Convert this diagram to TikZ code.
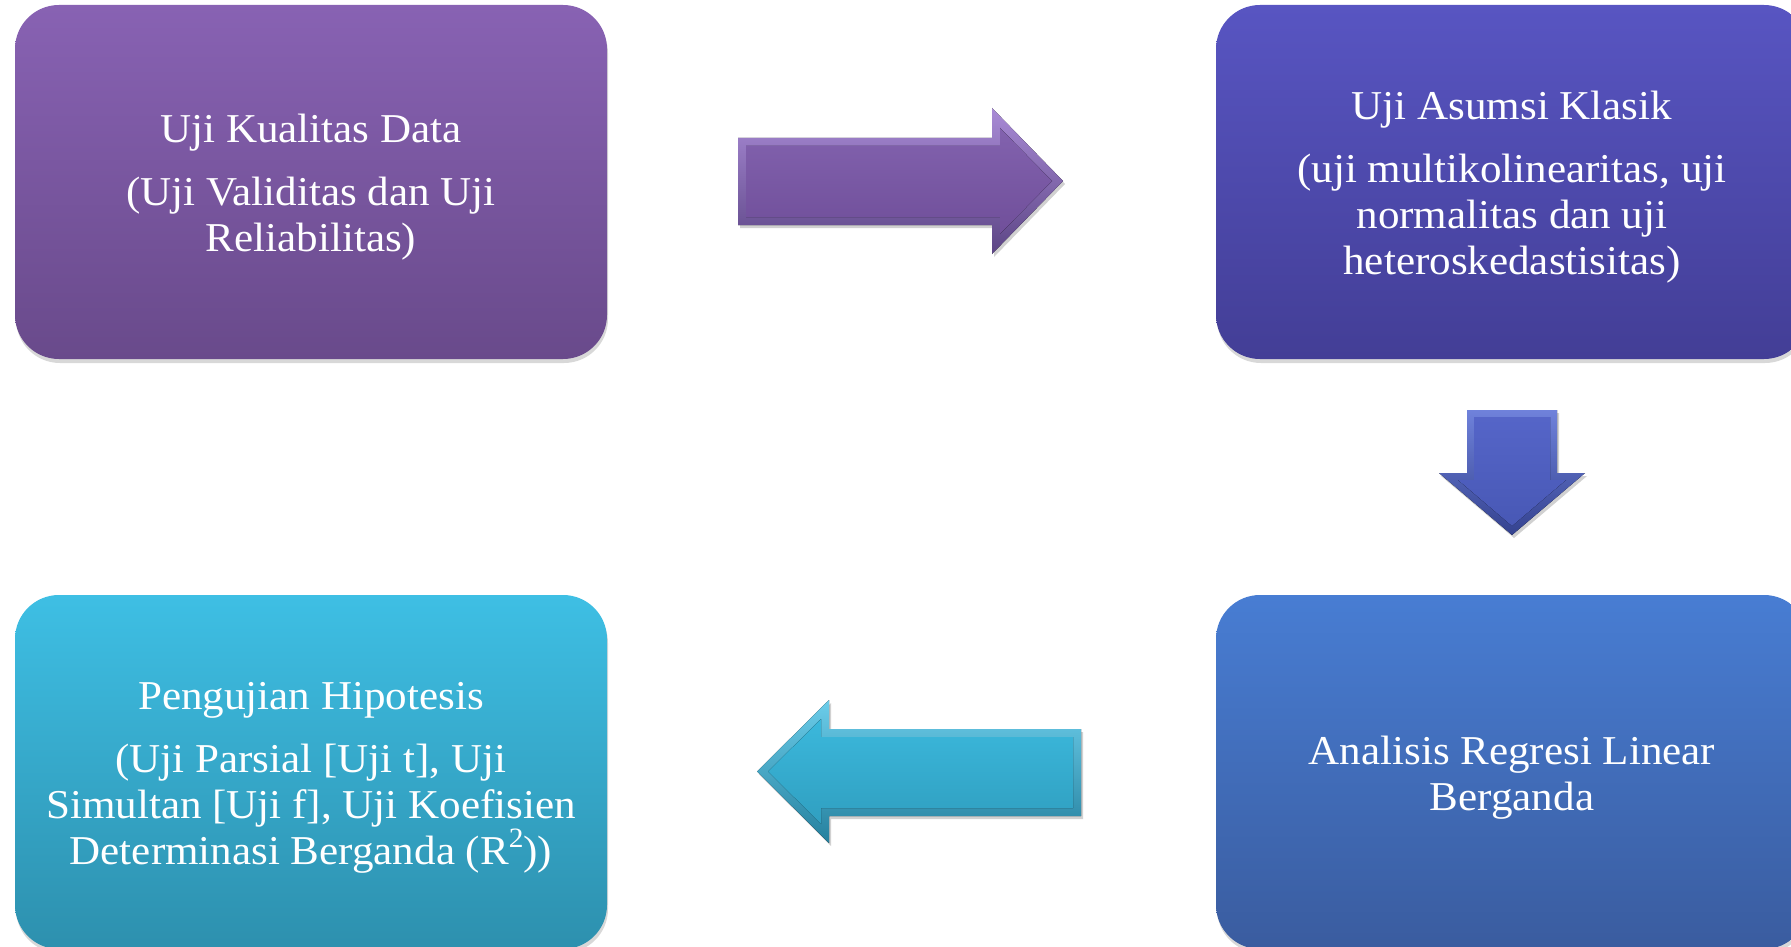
\documentclass[tikz,border=0pt]{standalone}
\usepackage{fontspec}
\setmainfont{Liberation Serif}[FakeStretch=1.05]
\usetikzlibrary{shadows}
\definecolor{bAt}{HTML}{8862B3}
\definecolor{bAb}{HTML}{694A8B}
\definecolor{bBt}{HTML}{5855C2}
\definecolor{bBb}{HTML}{433E96}
\definecolor{bCt}{HTML}{3EBFE4}
\definecolor{bCb}{HTML}{2D90AE}
\definecolor{bDt}{HTML}{487DD3}
\definecolor{bDb}{HTML}{3A5C9F}
\definecolor{rOt}{HTML}{A98BD6}
\definecolor{rOb}{HTML}{5C4585}
\definecolor{rIt}{HTML}{8262AE}
\definecolor{rIb}{HTML}{704F9A}
\definecolor{dOt}{HTML}{6F82DB}
\definecolor{dOb}{HTML}{34428F}
\definecolor{dIt}{HTML}{5565C8}
\definecolor{dIb}{HTML}{4858B5}
\definecolor{lOt}{HTML}{6CCDEA}
\definecolor{lOb}{HTML}{24809E}
\definecolor{lIt}{HTML}{3BB8DC}
\definecolor{lIb}{HTML}{309FC0}
\newcommand{\firstline}{\rule{0pt}{39pt}}
\newcommand{\suptwo}{\raisebox{.42em}{\fontsize{28}{28}\selectfont 2}}
\tikzset{
  card/.style={rounded corners=44pt, minimum width=592pt, minimum height=354pt,
    inner sep=0pt, text=white, align=center,
    font=\fontsize{41}{46}\selectfont,
    drop shadow={shadow xshift=1pt, shadow yshift=-4pt, opacity=.3}},
  ashadow/.style={fill=black, opacity=.18, xshift=2pt, yshift=-3pt}
}
\begin{document}
\begin{tikzpicture}[x=1pt,y=-1pt]
\useasboundingbox (0,0) rectangle (1791,947);
\clip (0,0) rectangle (1791,947);
\fill[white] (0,0) rectangle (1791,947);

\node[card, top color=bAt, bottom color=bAb] (b1) at (311,182)
  {\firstline Uji Kualitas Data\\[17pt](Uji Validitas dan Uji\\Reliabilitas)};
\node[card, top color=bBt, bottom color=bBb] (b2) at (1512,182)
  {\firstline Uji Asumsi Klasik\\[17pt](uji multikolinearitas, uji\\normalitas dan uji\\heteroskedastisitas)};
\node[card, top color=bCt, bottom color=bCb] (b3) at (311,772)
  {\firstline Pengujian Hipotesis\\[17pt](Uji Parsial [Uji t], Uji\\Simultan [Uji f], Uji Koefisien\\Determinasi Berganda (R\suptwo))};
\node[card, top color=bDt, bottom color=bDb] (b4) at (1512,772)
  {\firstline Analisis Regresi Linear\\Berganda};

% right arrow (b1 -> b2)
\fill[ashadow] (738,138)--(992,138)--(992,108)--(1063,181)--(992,254)--(992,225)--(738,225)--cycle;
\fill[top color=rOt, bottom color=rOb] (738,138)--(992,138)--(992,108)--(1063,181)--(992,254)--(992,225)--(738,225)--cycle;
\fill[top color=rIt, bottom color=rIb] (746,146)--(1000,146)--(1000,128)--(1052,181)--(1000,234)--(1000,217)--(746,217)--cycle;

% down arrow (b2 -> b4)
\fill[ashadow] (1467,410)--(1557,410)--(1557,473)--(1585,473)--(1512,535)--(1439,473)--(1467,473)--cycle;
\fill[top color=dOt, bottom color=dOb] (1467,410)--(1557,410)--(1557,473)--(1585,473)--(1512,535)--(1439,473)--(1467,473)--cycle;
\fill[top color=dIt, bottom color=dIb] (1474,417)--(1550,417)--(1550,480)--(1566,480)--(1512,526)--(1458,480)--(1474,480)--cycle;

% left arrow (b4 -> b3)
\fill[ashadow] (757,771.5)--(829,700)--(829,729)--(1081,729)--(1081,816)--(829,816)--(829,843)--cycle;
\fill[top color=lOt, bottom color=lOb] (757,771.5)--(829,700)--(829,729)--(1081,729)--(1081,816)--(829,816)--(829,843)--cycle;
\fill[top color=lIt, bottom color=lIb] (768,771.5)--(821,719)--(821,737)--(1073,737)--(1073,808)--(821,808)--(821,824)--cycle;
\end{tikzpicture}
\end{document}
